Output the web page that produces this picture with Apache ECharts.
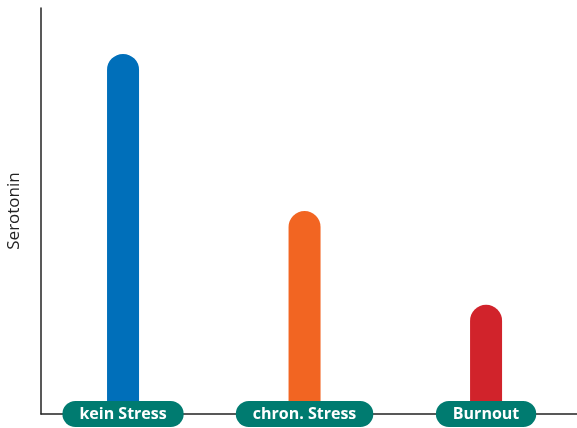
<!DOCTYPE html>
<html>
<head>
<meta charset="utf-8">
<script src="https://cdn.jsdelivr.net/npm/echarts@6/dist/echarts.min.js"></script>
<style>
html,body{margin:0;padding:0;background:#fff;}
#c{width:577px;height:428px;}
</style>
</head>
<body>
<div id="c"></div>
<script>
var categories = ['kein Stress', 'chron. Stress', 'Burnout'];
var values = [88.7, 50, 26.9];
var colors = ['#006fba', '#f26522', '#d1232b'];

var chart = echarts.init(document.getElementById('c'));
var option = {
    animation: false,
    grid: {left: 41, right: 0, top: 8, bottom: 14, containLabel: false, outerBoundsMode: 'none'},
    xAxis: {
        type: 'value',
        min: -0.452,
        max: 2.501,
        z: 5,
        splitLine: {show: false},
        axisTick: {show: false},
        axisLine: {show: true, onZero: false, lineStyle: {color: '#222', width: 1.5}},
        axisLabel: {
            customValues: [0, 1, 2],
            formatter: function (v) { return categories[Math.round(v)] || ''; },
            margin: 0,
            verticalAlign: 'middle',
            color: '#fff',
            fontFamily: 'Open Sans',
            fontWeight: 'bold',
            fontSize: 16,
            backgroundColor: '#007b70',
            borderRadius: 13,
            padding: [4, 17, 4, 17],
            lineHeight: 18
        }
    },
    yAxis: {
        type: 'value',
        min: 0,
        max: 100,
        name: 'Serotonin',
        nameLocation: 'middle',
        nameGap: 18,
        nameTextStyle: {color: '#222', fontSize: 17, fontFamily: 'Open Sans'},
        splitLine: {show: false},
        axisTick: {show: false},
        axisLabel: {show: false},
        axisLine: {show: true, onZero: false, lineStyle: {color: '#222', width: 1.5}}
    },
    series: [{
        type: 'bar',
        barWidth: 32,
        z: 1,
        data: values.map(function (v, i) {
            return {value: [i, v], itemStyle: {color: colors[i], borderRadius: [16, 16, 0, 0]}};
        })
    }]
};
chart.setOption(option);
</script>
</body>
</html>
